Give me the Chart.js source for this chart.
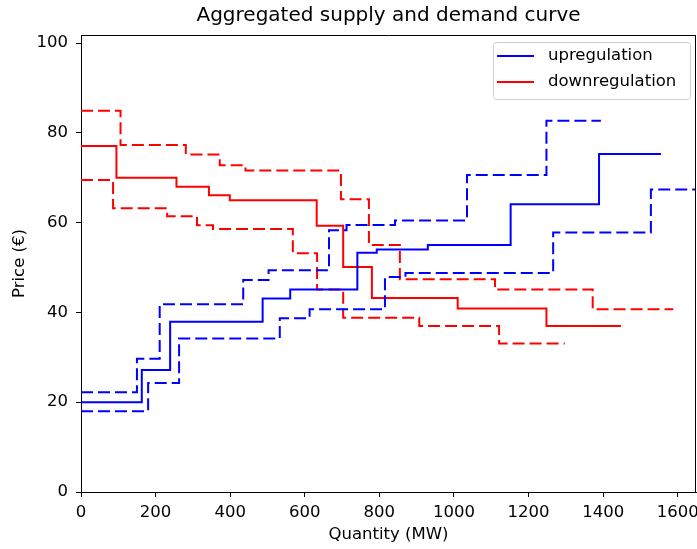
<html>
<head>
  <title>Aggregated supply and demand curve</title>
  <script src="https://cdn.jsdelivr.net/npm/chart.js@4.4.1/dist/chart.umd.min.js"></script>
  <style>
    body { margin: 0; background: #fff; }
    #wrap { width: 697px; height: 549px; }
  </style>
</head>
<body>
  <div id="wrap"><canvas id="curveChart" width="697" height="549"></canvas></div>
  <script>
    // step curves: level y[i] holds from x[i] to x[i+1]
    const upX = [0, 163, 239, 487, 561, 741, 793, 930, 1152, 1389, 1555];
    const upY = [20, 27.2, 37.9, 43.1, 45.1, 53.3, 54.0, 55.0, 64.1, 75.3, 75.3];
    const upHighX = [0, 150, 211, 435, 503, 665, 712, 842, 1035, 1248, 1394];
    const upHighY = [22.2, 29.7, 41.8, 47.2, 49.4, 58.3, 59.5, 60.5, 70.6, 82.7, 82.7];
    const upLowX = [0, 180, 263, 533, 613, 815, 870, 1266, 1528, 1700];
    const upLowY = [18.0, 24.3, 34.2, 38.7, 40.7, 47.9, 48.8, 57.8, 67.4, 67.4];

    const downX = [0, 95, 256, 343, 399, 632, 703, 780, 1010, 1248, 1448];
    const downY = [77.1, 70.0, 68.0, 66.1, 65.0, 59.3, 50.1, 43.2, 40.9, 37.0, 37.0];
    const downHighX = [0, 106, 281, 372, 441, 697, 772, 855, 1110, 1372, 1588];
    const downHighY = [84.9, 77.3, 75.2, 72.8, 71.6, 65.2, 55.0, 47.4, 45.1, 40.7, 40.7];
    const downLowX = [0, 86, 231, 311, 354, 568, 633, 703, 907, 1121, 1297];
    const downLowY = [69.5, 63.2, 61.4, 59.4, 58.6, 53.2, 45.1, 38.8, 37.0, 33.1, 33.1];

    const xTicks = [0, 200, 400, 600, 800, 1000, 1200, 1400, 1600];
    const yTicks = [0, 20, 40, 60, 80, 100];

    const FONT = "'DejaVu Sans', sans-serif";
    const FS = 16.5;

    function pts(xs, ys) {
      return xs.map((x, i) => ({ x: x, y: ys[i] }));
    }

    function stepSet(label, xs, ys, color, dashed) {
      return {
        label: label,
        data: pts(xs, ys),
        borderColor: color,
        backgroundColor: color,
        borderWidth: 2,
        borderDash: dashed ? [12, 5] : [],
        stepped: 'before',
        pointRadius: 0,
        fill: false,
      };
    }

    // matplotlib-like frame + legend box
    const framePlugin = {
      id: 'frame',
      afterDraw(chart) {
        const { ctx, chartArea: a } = chart;
        ctx.save();
        ctx.strokeStyle = '#000';
        ctx.lineWidth = 1;
        ctx.beginPath();
        ctx.moveTo(a.left, a.top + 0.5);
        ctx.lineTo(a.right, a.top + 0.5);
        ctx.moveTo(a.right - 0.5, a.top);
        ctx.lineTo(a.right - 0.5, a.bottom);
        ctx.stroke();

        // legend
        const bx = 493, by = 42, bw = 197, bh = 57;
        ctx.fillStyle = 'rgba(255,255,255,0.8)';
        ctx.strokeStyle = '#d0d0d0';
        ctx.beginPath();
        ctx.roundRect(bx + 0.5, by + 0.5, bw, bh, 3);
        ctx.fill();
        ctx.stroke();
        const items = chart.data.datasets.filter(d => d.showInLegend);
        ctx.font = FS + 'px ' + FONT;
        ctx.textBaseline = 'middle';
        items.forEach((d, i) => {
          const y = by + 14 + i * 26;
          ctx.strokeStyle = d.borderColor;
          ctx.lineWidth = 2;
          ctx.setLineDash([]);
          ctx.beginPath();
          ctx.moveTo(bx + 4, y);
          ctx.lineTo(bx + 41, y);
          ctx.stroke();
          ctx.fillStyle = '#000';
          ctx.fillText(d.label, bx + 55, y);
        });
        ctx.restore();
      }
    };

    const datasets = [
      Object.assign(stepSet('upregulation', upX, upY, '#0000ff', false), { showInLegend: true }),
      stepSet('upregulation high', upHighX, upHighY, '#0000ff', true),
      stepSet('upregulation low', upLowX, upLowY, '#0000ff', true),
      Object.assign(stepSet('downregulation', downX, downY, '#ff0000', false), { showInLegend: true }),
      stepSet('downregulation high', downHighX, downHighY, '#ff0000', true),
      stepSet('downregulation low', downLowX, downLowY, '#ff0000', true),
    ];

    new Chart(document.getElementById('curveChart').getContext('2d'), {
      type: 'line',
      data: { datasets: datasets },
      options: {
        responsive: false,
        animation: false,
        layout: { padding: { left: 0, right: 1, top: 0, bottom: 0 } },
        plugins: {
          legend: { display: false },
          tooltip: { enabled: false },
          title: {
            display: true,
            fullSize: false,
            text: 'Aggregated supply and demand curve',
            color: '#000',
            font: { family: FONT, size: 20, weight: 'normal' },
            padding: { top: 4, bottom: 7 },
          },
        },
        scales: {
          x: {
            type: 'linear',
            min: 0,
            max: 1649,
            afterBuildTicks: (s) => { s.ticks = xTicks.map(v => ({ value: v })); },
            afterFit: (s) => { s.height = 57; s.paddingLeft = 0; s.paddingRight = 0; },
            grid: { drawOnChartArea: false, drawTicks: true, tickLength: 5, color: '#000' },
            border: { display: true, color: '#000', width: 1 },
            ticks: {
              color: '#000', padding: 6, maxRotation: 0,
              font: { family: FONT, size: FS },
              callback: (v) => String(v),
            },
            title: {
              display: true,
              text: 'Quantity (MW)',
              color: '#000',
              font: { family: FONT, size: FS },
              padding: { top: 0, bottom: 4 },
            },
          },
          y: {
            min: 0,
            max: 101.8,
            afterBuildTicks: (s) => { s.ticks = yTicks.map(v => ({ value: v })); },
            afterFit: (s) => { s.width = 81; },
            grid: { drawOnChartArea: false, drawTicks: true, tickLength: 5, color: '#000' },
            border: { display: true, color: '#000', width: 1 },
            ticks: {
              color: '#000', padding: 8,
              font: { family: FONT, size: FS },
              callback: (v) => String(v),
            },
            title: {
              display: true,
              text: 'Price (€)',
              color: '#000',
              font: { family: FONT, size: FS },
              padding: { top: 10, bottom: 0 },
            },
          },
        },
      },
      plugins: [framePlugin],
    });
  </script>
</body>
</html>
